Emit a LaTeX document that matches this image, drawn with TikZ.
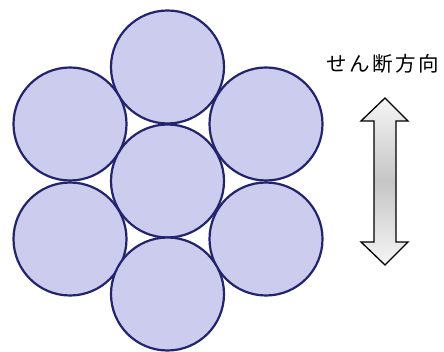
\documentclass[tikz,border=0pt]{standalone}
\usepackage{fontspec}
\newfontfamily\jp{Noto Sans CJK JP}
\definecolor{cfill}{RGB}{204,204,238}
\definecolor{cline}{RGB}{35,35,110}
\begin{document}
\begin{tikzpicture}[x=1pt,y=-1pt,
  wire/.style={circle,draw=cline,fill=cfill,line width=2.2pt,minimum size=113pt,inner sep=0pt},
  arrowbody/.style={draw=black,line width=1.3pt,line join=miter,top color=gray!8,bottom color=gray!8,middle color=gray!45}]
\useasboundingbox (0,0) rectangle (444,352);
\node[wire] (t) at (167.5,67) {};
\node[wire] (ul) at (70,124) {};
\node[wire] (ur) at (266,124) {};
\node[wire] (c) at (167.5,181) {};
\node[wire] (ll) at (70,239) {};
\node[wire] (lr) at (266,239) {};
\node[wire] (b) at (167.5,294) {};
\node[inner sep=0pt,font=\jp\fontsize{20.5}{22}\selectfont] (lbl) at (382.5,64) {せ\kern2.5pt ん\kern2.5pt 断\kern2.5pt 方\kern2.5pt 向};
\shadedraw[arrowbody] (385,98) -- (408,121) -- (396,121) -- (396,242) -- (408,242) -- (385,265) -- (361,242) -- (374,242) -- (374,121) -- (361,121) -- cycle;
\end{tikzpicture}
\end{document}
